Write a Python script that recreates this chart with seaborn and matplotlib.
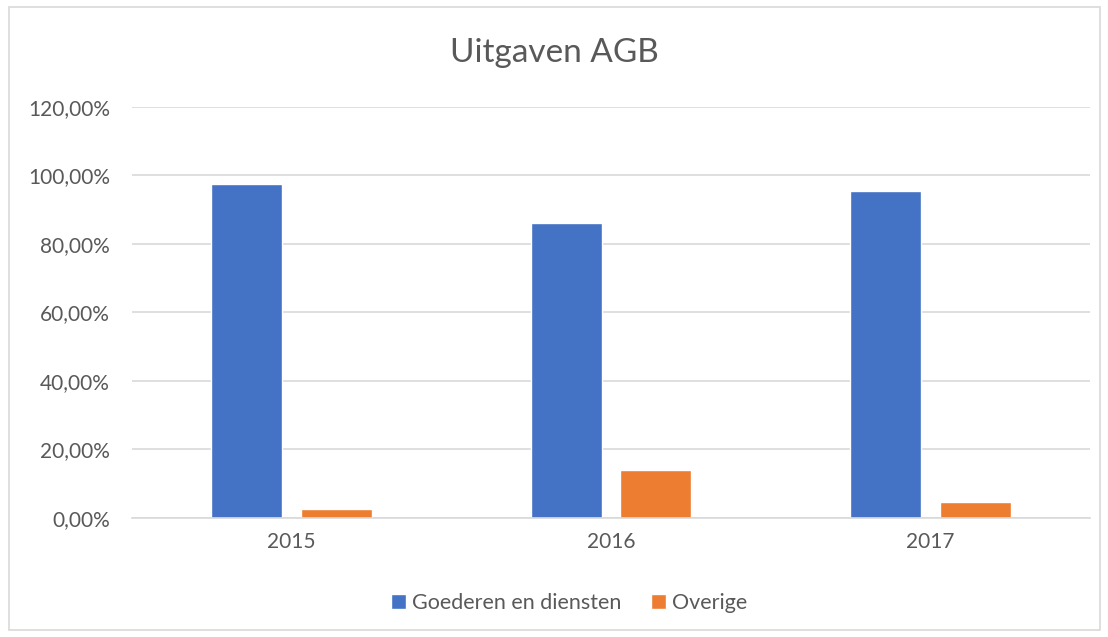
import matplotlib
matplotlib.use("Agg")
import matplotlib.pyplot as plt
import seaborn as sns
import pandas as pd
from matplotlib.ticker import FuncFormatter
from matplotlib.patches import Rectangle

years = ["2015", "2016", "2017"]
goederen = [97.4, 86.0, 95.4]
overige = [2.6, 14.0, 4.6]
series_names = ["Goederen en diensten", "Overige"]
colors = ["#4472C4", "#ED7D31"]

df = pd.DataFrame({
    "jaar": years * 2,
    "waarde": goederen + overige,
    "reeks": [series_names[0]] * 3 + [series_names[1]] * 3,
})

sns.set_theme(style="white")
plt.rcParams['font.family'] = ['Lato', 'DejaVu Sans']

fig = plt.figure(figsize=(11.08, 6.37), dpi=100)
ax = fig.add_axes([132/1108, (637-518)/637, (1090-132)/1108, 411.3/637])

sns.barplot(data=df, x="jaar", y="waarde", hue="reeks", palette=colors,
            width=0.563, gap=0.21, ax=ax, legend=True, saturation=1)

ax.set_ylim(0, 120)
ax.set_yticks([0, 20, 40, 60, 80, 100, 120])
ax.yaxis.set_major_formatter(FuncFormatter(lambda v, p: f"{v:.2f}".replace(".", ",") + "%"))
ax.grid(axis="y", color="#d9d9d9", linewidth=1.2)
ax.set_axisbelow(True)
for s in ["top", "right", "left"]:
    ax.spines[s].set_visible(False)
ax.spines["bottom"].set_color("#d9d9d9")
ax.spines["bottom"].set_linewidth(1.2)
ax.set_xlabel("")
ax.set_ylabel("")
ax.tick_params(axis="both", colors="#595959", labelsize=15, length=0)
ax.tick_params(axis="y", pad=16)
ax.tick_params(axis="x", pad=10)

fig.text(0.5, (637-53)/637, "Uitgaven AGB", ha="center", va="center", fontsize=24, color="#595959")

leg = ax.legend(loc="center", bbox_to_anchor=(569/1108, (637-603)/637), bbox_transform=fig.transFigure,
                ncol=2, frameon=False, fontsize=15.5, handlelength=0.7, handleheight=0.7,
                columnspacing=1.4, handletextpad=0.25)
for t in leg.get_texts():
    t.set_color("#595959")

fig.patches.append(Rectangle((9/1108, 7/637), (1100-9)/1108, (630-7)/637, transform=fig.transFigure,
                             fill=False, edgecolor="#d9d9d9", linewidth=1.2))

fig.savefig("out.png", dpi=100)
